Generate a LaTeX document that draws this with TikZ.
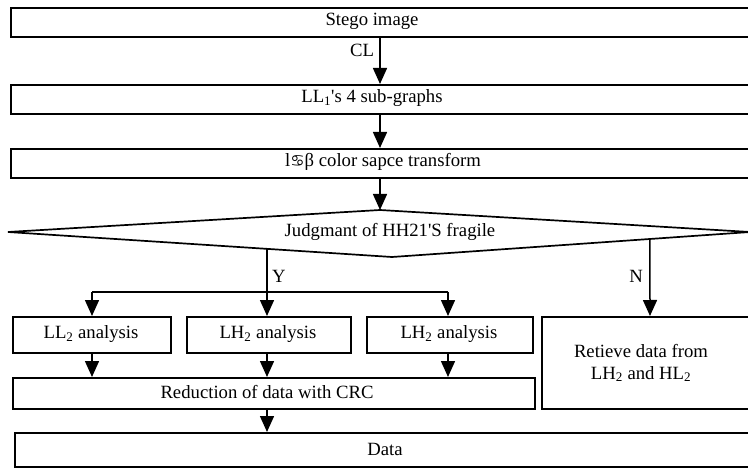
\documentclass[tikz,border=0pt]{standalone}
\usepackage{fontspec}
\setmainfont{Liberation Serif}[Ligatures=TeXOff]
\newfontfamily\symfont{DejaVu Sans}
\usetikzlibrary{arrows.meta}
\begin{document}
\begin{tikzpicture}[x=1pt,y=-1pt,
  box/.style={draw,line width=1.7pt,inner sep=0pt,anchor=north west},
  txt/.style={font=\fontsize{18.7}{22}\selectfont,inner sep=0pt,align=center},
  arr/.style={line width=1.5pt,-{Triangle[width=14pt,length=16pt]}},
  ln/.style={line width=1.5pt}]
\useasboundingbox (0,0) rectangle (748,468);
\fill[white] (0,0) rectangle (748,468);
\begin{scope}
\clip (0,0) rectangle (748,468);
% main column boxes
\node[box,minimum width=760pt,minimum height=29pt] (b1) at (10,7) {};
\node[box,minimum width=760pt,minimum height=29pt] (b2) at (10,84) {};
\node[box,minimum width=760pt,minimum height=29pt] (b3) at (10,148) {};
\node[txt] (t1) at (372,21) {Stego image};
\node[txt] (t2) at (372,98) {LL\textsubscript{1}'s 4 sub-graphs};
\node[txt] (t3) at (383,162) {l{\symfont\fontsize{16}{18}\selectfont ♋}β color sapce transform};
% diamond
\coordinate (dT) at (380,210);
\coordinate (dR) at (750,232);
\coordinate (dB) at (392,257);
\coordinate (dL) at (8,232);
\draw[line width=1.7pt,line join=miter] (dT) -- (dR) -- (dB) -- (dL) -- cycle;
\node[txt] (dtext) at (390,232) {Judgmant of HH21'S fragile};
\coordinate (cx) at (380,0);
\draw[arr] (b1.south -| cx) -- (b2.north -| cx);
\draw[arr] (b2.south -| cx) -- (b3.north -| cx);
\draw[arr] (b3.south -| cx) -- (dT);
% second row
\node[box,minimum width=158pt,minimum height=36pt] (a1) at (12,316) {};
\node[box,minimum width=164pt,minimum height=36pt] (a2) at (186,316) {};
\node[box,minimum width=166pt,minimum height=36pt] (a3) at (366,316) {};
\node[box,minimum width=220pt,minimum height=92pt] (r) at (541,316) {};
\node[txt] (ta1) at (91,334) {LL\textsubscript{2} analysis};
\node[txt] (ta2) at (268,334) {LH\textsubscript{2} analysis};
\node[txt] (ta3) at (449,334) {LH\textsubscript{2} analysis};
\node[txt] (tr) at (641,363) {Retieve data from\\LH\textsubscript{2} and HL\textsubscript{2}};
\node[box,minimum width=522pt,minimum height=31pt] (red) at (12,377) {};
\node[txt] (tred) at (267,392) {Reduction of data with CRC};
\node[box,minimum width=750pt,minimum height=34pt] (data) at (14,432) {};
\node[txt] (tdata) at (385,449) {Data};
% branches
\coordinate (yx) at (267,0);
\coordinate (nx) at (650,0);
\coordinate (ys) at (intersection of dL--dB and 267,200--267,300);
\coordinate (ns) at (intersection of dB--dR and 650,200--650,300);
\coordinate (yj) at (267,292);
\coordinate (lx) at (92,0);
\coordinate (rx) at (448,0);
\draw[ln] (ys) -- (yj);
\draw[arr] (yj) -- (a2.north -| yx);
\draw[arr] (yj -| lx) -- (a1.north -| lx);
\draw[arr] (yj -| rx) -- (a3.north -| rx);
\draw[ln] (yj -| lx) -- (yj -| rx);
\draw[arr] (ns) -- (r.north -| nx);
\node[txt] (ly) at (279,276) {Y};
\node[txt] (lnn) at (636,276) {N};
\node[txt] (lcl) at (362,50) {CL};
\draw[arr] (a1.south -| lx) -- (red.north -| lx);
\draw[arr] (a2.south -| yx) -- (red.north -| yx);
\draw[arr] (a3.south -| rx) -- (red.north -| rx);
\draw[arr] (red.south -| yx) -- (data.north -| yx);
\end{scope}
\end{tikzpicture}
\end{document}
